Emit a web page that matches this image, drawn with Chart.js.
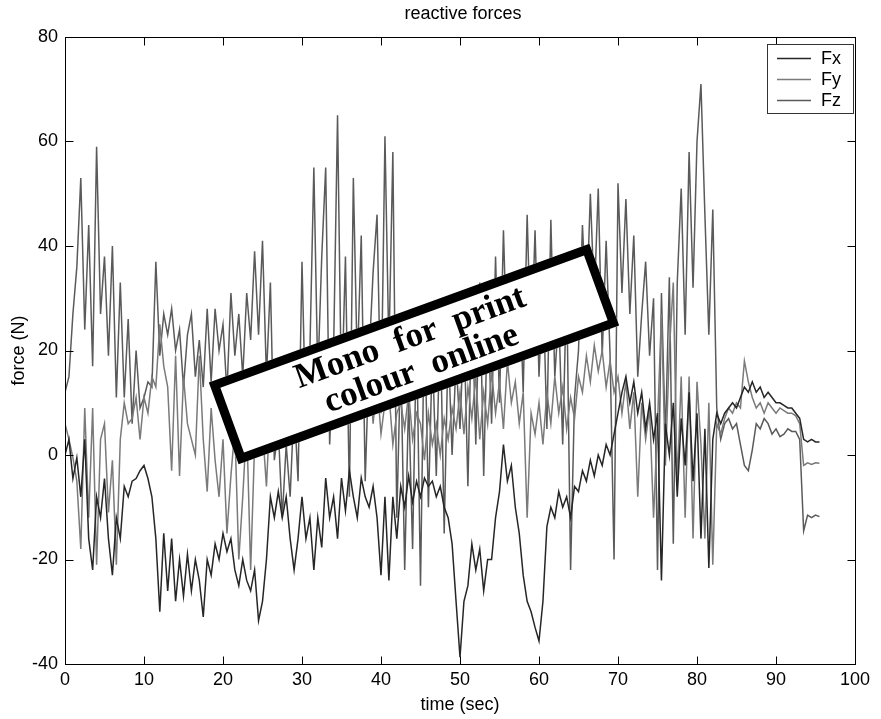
<!DOCTYPE html>
<html>
<head>
<meta charset="utf-8">
<script src="https://cdn.jsdelivr.net/npm/chart.js@4.4.1/dist/chart.umd.min.js"></script>
<style>
html,body{margin:0;padding:0;background:#fff;}
canvas{display:block;}
</style>
</head>
<body>
<canvas id="c" width="881" height="719"></canvas>
<script>
// ---- data (sampled every 0.5 s, t = 0 .. 95.5) ----
const tStart = 0, tStep = 0.5;
const seriesNames = ['Fx', 'Fy', 'Fz'];
const xTicks = [0, 10, 20, 30, 40, 50, 60, 70, 80, 90, 100];
const yTicks = [-40, -20, 0, 20, 40, 60, 80];

const fx = [
  0, 3, -4.5, -0.5, -8, 3, -16, -22, -8, -12,
  -4.5, -16, -23, -12, -16, -6, -8, -5, -4.5, -3,
  -2, -4.5, -8, -16, -30, -15, -26, -16, -28, -20,
  -27, -19, -26, -20, -24, -31, -20, -23, -17, -20,
  -15, -18.5, -16, -22, -25, -20, -24, -26, -22, -31.7,
  -28, -20, -8, -12, -7, -12, -8, -16, -22, -16,
  -8, -16, -12, -22, -12, -17.7, -4.4, -12, -8, -16,
  -4.4, -10.7, -3, -8, -12, -4.4, -8, -10, -6, -12,
  -23, -8, -24, -8, -16, -6, -10, -4, -9, -5,
  -8, -4.4, -6, -5, -8, -6, -10, -12, -17, -28,
  -38.7, -28, -25, -17, -22, -18, -26, -20, -20, -12,
  -7, 2, -5, -2, -10, -15, -23, -28, -30, -33,
  -35.6, -28, -13.7, -10, -12, -7, -10, -8, -12, -6,
  -7, -3, -5, -1, -4, 0, -2, 2, 0, 4,
  8, 12, 15, 10, 14, 8, 12, 5, 10, 3,
  8, -24, 6, 0, 10, -8, 7, -2, 12, -5,
  8, -16, 5, -21.6, 3, 8, 6, 8, 9, 10,
  9, 11, 13, 12, 14, 12, 13, 11, 12, 11,
  10, 10, 9.5, 9, 9, 8, 7, 3, 2.5, 3,
  2.5, 2.5
];
const fy = [
  6, 3, -0.5, -5, -18, 9, -12, 9, -21, 3,
  6, -11, -1, -21, 3, 10, 6, 7, 11, 3,
  11, 8, 15, 13, 25, 17, 13, -3, 19, -4,
  15, 6, 3, 0, 19, 3, -7, 9, -1, -8,
  3, -15, -4, 5, -20, -8, 6, -22, 2, 8,
  5, -6, 10, 3, 12, 6, 15, 4, 10, 8,
  14, 3, 18, 8, 12, 5, 20, 10, 15, 6,
  22, 12, 16, 8, 20, 14, 10, 18, 6, 14,
  4, 10, 12, 2, 8, 10, 5, 12, 3, 8,
  6, -1, 8, 2, 6, 0, 7, 3, 9, 5,
  12, 4, 13, 7, 15, 3, 12, 6, 16, 8,
  14, 5, 18, 10, 14, 6, 12, -12, 8, 4,
  10, 2, 12, 6, 15, 8, 13, 5, 11, 7,
  15, 12, 19, 14, 21, 16, 20, 13, 18, 12,
  15, 8, 14, 5, 12, -8, 10, 3, 9, -12,
  6, 27, -2, 20, 33, -6, 15, -12, 15, -16,
  14, 2, -16, 10, -21, 6, 4, 7, 9, 8,
  10, 9, 18, 14, 11, 9, 10, 8, 10, 9,
  8, 9, 8.5, 8, 8, 7.5, 6, -2, -1.5, -1.8,
  -1.5, -1.6
];
const fz = [
  12, 15, 27, 36, 53, 24, 44, 17, 59, 27,
  38, 19, 40, 11, 33, 11, 26, 6, 20, 9,
  11, 14, 13, 37, 19, 27, 23, 28, 20, 24,
  13, 23, 27, 15, 22, 13, 28, 14, 28, 20,
  25, 12, 31, 19, 27, 15, 31, 22, 39, 23,
  41, 15, 33, -1, 5, -12, 2, -8, 10, -5,
  37, 5, 20, 55, 15, 38, 55, 2, 20, 65,
  10, 38, -8, 53, 17, 42, -5, 19, 35, 46,
  8, 61, 20, 58, -12, 19, -22, 11, -18, 24,
  -25, 28, -10, 20, -4, 26, -15, 22, 0, 18,
  5, 25, -6, 30, 2, 33, -4, 28, 6, 38,
  10, 43, 17, 27, 23, 35, 12, 46, 19, 43,
  15, 33, 5, 45, 15, 27, 2, 33, -22, 11,
  20, 44, 27, 50, 30, 51, 19, 41, 19, -20,
  52, 31, 49, 27, 42, 15, 27, 37, 19, 30,
  -22, 31, 3, 34, -17, 33, 51, 23, 58, 32,
  60, 71, 46, 23, 47, 9, 3, 6, 7, 5,
  6, 2, -2, -3, 1, 6, 5, 7, 6, 4,
  5, 3.5, 4, 5, 4.5, 4.5, 3, -14.5, -11.5, -12,
  -11.5, -11.8
];

const time = fx.map((_, i) => tStart + i * tStep);
const toXY = arr => arr.map((v, i) => ({x: time[i], y: v}));

const SANS = '"Liberation Sans", Arial, sans-serif';
const SERIF = '"Liberation Serif", "Times New Roman", serif';
const colors = ['#262626', '#7a7a7a', '#5a5a5a'];

Chart.defaults.font.family = SANS;
Chart.defaults.color = '#000';

const framePlugin = {
  id: 'frame',
  afterDatasetsDraw(chart) {
    const {ctx, chartArea: a, scales: {x, y}} = chart;
    ctx.save();
    ctx.strokeStyle = '#000';
    ctx.lineWidth = 1;
    const L = Math.round(a.left) + 0.5, R = Math.round(a.right) + 0.5;
    const T = Math.round(a.top) + 0.5, B = Math.round(a.bottom) + 0.5;
    ctx.strokeRect(L, T, R - L, B - T);
    const tl = 8;
    ctx.beginPath();
    xTicks.forEach(v => {
      const px = Math.round(x.getPixelForValue(v)) + 0.5;
      ctx.moveTo(px, B); ctx.lineTo(px, B - tl);
      ctx.moveTo(px, T); ctx.lineTo(px, T + tl);
    });
    yTicks.forEach(v => {
      const py = Math.round(y.getPixelForValue(v)) + 0.5;
      ctx.moveTo(L, py); ctx.lineTo(L + tl, py);
      ctx.moveTo(R, py); ctx.lineTo(R - tl, py);
    });
    ctx.stroke();
    ctx.restore();
  },
  afterDraw(chart) {
    const {ctx, chartArea: a} = chart;
    ctx.save();
    // title and axis titles
    ctx.fillStyle = '#000';
    ctx.font = '18px ' + SANS;
    ctx.textAlign = 'center';
    ctx.textBaseline = 'middle';
    const cx = (a.left + a.right) / 2;
    ctx.fillText('reactive forces', cx + 3, 14);
    ctx.fillText('time (sec)', cx, 705);
    ctx.save();
    ctx.translate(19, (a.top + a.bottom) / 2);
    ctx.rotate(-Math.PI / 2);
    ctx.fillText('force (N)', 0, 0);
    ctx.restore();

    // legend
    const lx = 767.5, ly = 44.5, lw = 86, lh = 69;
    ctx.fillStyle = '#fff';
    ctx.fillRect(lx, ly, lw, lh);
    ctx.strokeStyle = '#333';
    ctx.lineWidth = 1;
    ctx.strokeRect(lx, ly, lw, lh);
    ctx.textAlign = 'left';
    chart.data.datasets.forEach((ds, i) => {
      const yy = 58 + i * 21;
      ctx.strokeStyle = ds.borderColor;
      ctx.lineWidth = 1.3;
      ctx.beginPath();
      ctx.moveTo(777, yy + 0.5); ctx.lineTo(811, yy + 0.5);
      ctx.stroke();
      ctx.fillStyle = '#000';
      ctx.fillText(ds.label, 821, yy + 1);
    });

    // "Mono for print / colour online" stamp
    ctx.save();
    ctx.translate(414, 354);
    ctx.rotate(-20 * Math.PI / 180);
    const bw = 405, bh = 87, bt = 9;
    ctx.fillStyle = '#fff';
    ctx.fillRect(-bw / 2, -bh / 2, bw, bh);
    ctx.strokeStyle = '#000';
    ctx.lineWidth = bt;
    ctx.strokeRect(-bw / 2 + bt / 2, -bh / 2 + bt / 2, bw - bt, bh - bt);
    ctx.fillStyle = '#000';
    ctx.font = 'bold 35px ' + SERIF;
    ctx.textAlign = 'center';
    ctx.textBaseline = 'middle';
    ctx.fillText('Mono  for  print', 2, -16);
    ctx.fillText('colour  online', 2, 17);
    ctx.restore();

    ctx.restore();
  }
};

new Chart(document.getElementById('c'), {
  type: 'line',
  data: {
    datasets: [
      {label: seriesNames[0], data: toXY(fx), borderColor: colors[0]},
      {label: seriesNames[1], data: toXY(fy), borderColor: colors[1]},
      {label: seriesNames[2], data: toXY(fz), borderColor: colors[2]}
    ]
  },
  options: {
    responsive: false,
    animation: false,
    devicePixelRatio: 1,
    layout: {padding: {top: 37, right: 26, bottom: 0, left: 0}},
    elements: {
      point: {radius: 0},
      line: {borderWidth: 1.5, tension: 0}
    },
    plugins: {
      legend: {display: false},
      title: {display: false},
      tooltip: {enabled: false}
    },
    scales: {
      x: {
        type: 'linear', min: 0, max: 100,
        afterBuildTicks: s => { s.ticks = xTicks.map(v => ({value: v})); },
        afterFit: s => { s.height = 55; },
        grid: {display: false, drawTicks: false},
        border: {display: false},
        ticks: {font: {size: 18}, padding: 5, maxRotation: 0, autoSkip: false, color: '#000'}
      },
      y: {
        type: 'linear', min: -40, max: 80,
        afterBuildTicks: s => { s.ticks = yTicks.map(v => ({value: v})); },
        afterFit: s => { s.width = 65; },
        grid: {display: false, drawTicks: false},
        border: {display: false},
        ticks: {font: {size: 18}, padding: 7, autoSkip: false, color: '#000'}
      }
    }
  },
  plugins: [framePlugin]
});
</script>
</body>
</html>
